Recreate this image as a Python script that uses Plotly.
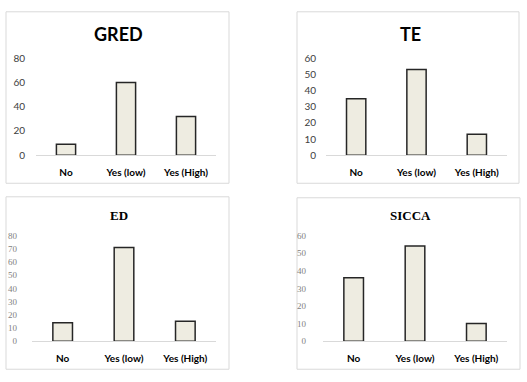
import plotly.graph_objects as go

categories = ["No", "Yes (low)", "Yes (High)"]
titles = ["GRED", "TE", "ED", "SICCA"]
gred = [9, 60, 32]
te = [35, 53, 13]
ed = [14, 71, 15]
sicca = [36, 54, 10]
series = [gred, te, ed, sicca]
y_max = [80, 60, 80, 60]
y_step = [20, 10, 10, 10]

W, H = 527, 382
# plot areas in pixels: x0, x1, ytop, ybottom
areas = [(36, 216, 54, 154), (326, 507, 54, 154), (32, 216, 237, 346), (323, 507, 237, 346)]
boxes = [(6, 229, 6, 183), (297, 519, 6, 183), (6, 229, 197, 375), (297, 520, 198, 375)]
title_pos = [(118, 29), (410, 29), (119, 216), (410, 216)]
title_fonts = [
    dict(family="Lato", size=18, color="#000000"),
    dict(family="Lato", size=18, color="#000000"),
    dict(family="Liberation Serif", size=13, color="#000000"),
    dict(family="Liberation Serif", size=13, color="#000000"),
]
tick_fonts = [
    dict(family="Lato", size=10, color="#404040"),
    dict(family="Lato", size=10, color="#404040"),
    dict(family="Liberation Serif", size=9, color="#7f7f7f"),
    dict(family="Liberation Serif", size=9, color="#7f7f7f"),
]
y_standoff = [10, 9, 14, 16]

fig = go.Figure()
layout = dict(
    width=W, height=H, margin=dict(l=0, r=0, t=0, b=0),
    paper_bgcolor="white", plot_bgcolor="white", showlegend=False,
    shapes=[], annotations=[],
)

for i in range(4):
    n = "" if i == 0 else str(i + 1)
    x0, x1, yt, yb = areas[i]
    fig.add_trace(go.Bar(
        x=categories, y=series[i], width=0.32,
        marker=dict(color="#EEECE1", line=dict(color="#262626", width=1.5)),
        xaxis="x" + n, yaxis="y" + n, hoverinfo="skip",
    ))
    layout["xaxis" + n] = dict(
        domain=[x0 / W, x1 / W], anchor="y" + n, range=[-0.5, 2.5],
        showline=True, linecolor="#d9d9d9", linewidth=1, showgrid=False,
        ticks="", ticklabelstandoff=8,
        tickfont=dict(family="Lato", size=10, color="#000000", weight="bold"),
        fixedrange=True,
    )
    layout["yaxis" + n] = dict(
        domain=[1 - yb / H, 1 - yt / H], anchor="x" + n, range=[0, y_max[i]],
        dtick=y_step[i], tick0=0, showgrid=False, showline=False, zeroline=False,
        ticks="", ticklabelstandoff=y_standoff[i], tickfont=tick_fonts[i],
        fixedrange=True,
    )
    bx0, bx1, by0, by1 = boxes[i]
    layout["shapes"].append(dict(
        type="rect", xref="paper", yref="paper",
        x0=bx0 / W, x1=bx1 / W, y0=1 - by1 / H, y1=1 - by0 / H,
        line=dict(color="#d9d9d9", width=1), fillcolor="rgba(0,0,0,0)", layer="below",
    ))
    tx, ty = title_pos[i]
    layout["annotations"].append(dict(
        text="<b>" + titles[i] + "</b>", xref="paper", yref="paper",
        x=tx / W, y=1 - ty / H, xanchor="center", yanchor="middle",
        showarrow=False, font=title_fonts[i],
    ))

fig.update_layout(**layout)
fig.write_html(
    "out.html",
    config={"displayModeBar": False, "staticPlot": True},
    post_script="document.body.style.margin='0';document.body.style.overflow='hidden';",
)
